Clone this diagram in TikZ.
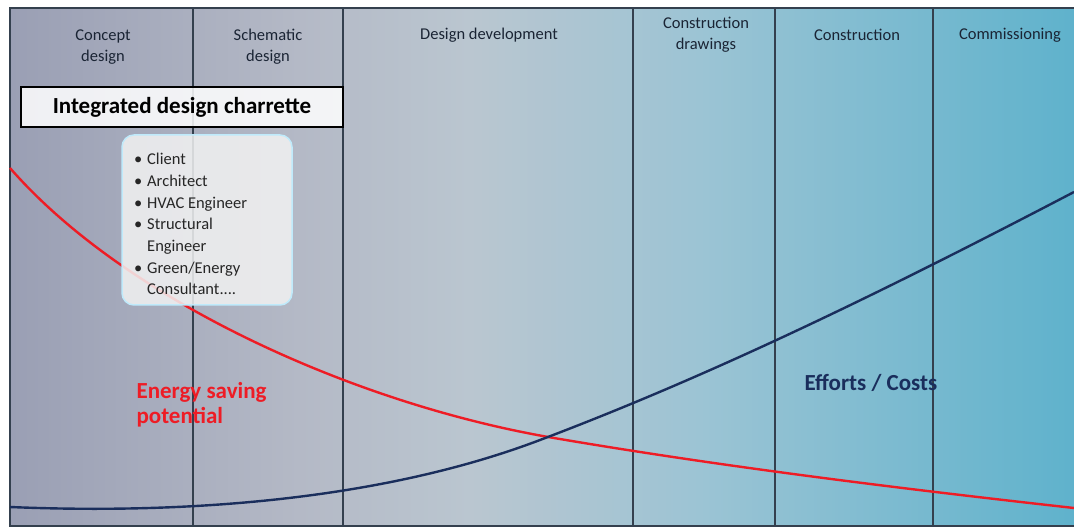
\documentclass[tikz,border=0pt]{standalone}
\usepackage{fontspec}
\setmainfont{Carlito}

\definecolor{bgA}{HTML}{9A9FB4}
\definecolor{bgB}{HTML}{B4B9C6}
\definecolor{bgC}{HTML}{BAC6D0}
\definecolor{bgD}{HTML}{9CC4D4}
\definecolor{bgE}{HTML}{5FB2CC}
\definecolor{frameline}{HTML}{34404E}
\definecolor{headtext}{HTML}{1A2434}
\definecolor{savingred}{HTML}{EE1C25}
\definecolor{costblue}{HTML}{1A2E5C}

\pgfdeclarehorizontalshading{phases}{100bp}{color(0bp)=(bgA); color(25bp)=(bgA);
  color(38.6bp)=(bgB); color(46.6bp)=(bgC); color(57.4bp)=(bgD);
  color(75bp)=(bgE); color(100bp)=(bgE)}

\begin{document}
\begin{tikzpicture}[x=1pt,y=-1pt]

        \useasboundingbox (0,0) rectangle (1074,529);
        \fill[white] (0,0) rectangle (1074,529);
        \shade[shading=phases] (10,8) rectangle (1074,526);

        % phase borders
        \draw[frameline, line width=2pt] (1074,8) -- (10,8) -- (10,526) -- (1074,526);
        \foreach \x in {193,343,633,775,933}
          \draw[frameline, line width=1.1pt] (\x,8) -- (\x,526);

        % curves
        \draw[savingred, line width=2.4pt] (10,168) .. controls (125,300) and (354,404) .. (554,438)
          .. controls (724,467) and (904,489) .. (1074,508);
        \draw[costblue, line width=2.4pt] (10,507) .. controls (200,515) and (390,497) .. (540,440)
          .. controls (720,372) and (894,286) .. (1074,192);

        \begin{scope}[every node/.style={text=headtext, font=\fontsize{16.5}{21}\selectfont, align=center}]
          \node (concept)   at (103,47)  {Concept\\design};
          \node (schematic) at (268,47)  {Schematic\\design};
          \node (develop)   at (489,35)  {Design development};
          \node (drawings)  at (706,35)  {Construction\\drawings};
          \node (construct) at (857,35)  {Construction};
          \node (commiss)   at (1010,35) {Commissioning};
        \end{scope}

        \node[draw=black, line width=2pt, fill=white, fill opacity=0.85, text opacity=1,
              minimum width=322pt, minimum height=40pt, inner sep=0pt,
              font=\fontsize{23}{26}\bfseries\selectfont] (charrette) at (182,107)
              {Integrated design charrette};

        \node[draw=cyan!25!white, line width=1.5pt, fill=gray!10, fill opacity=0.85, text opacity=1,
              rounded corners=12pt, minimum width=170pt, minimum height=170pt] (team) at (207,220) {};
        \node[anchor=north west, align=left, inner sep=0pt,
              font=\fontsize{16.5}{21.7}\selectfont, text=black!85] (members) at (134,153)
          {\makebox[13pt][l]{\textbullet}Client\\
           \makebox[13pt][l]{\textbullet}Architect\\
           \makebox[13pt][l]{\textbullet}HVAC Engineer\\
           \makebox[13pt][l]{\textbullet}Structural\\
           \hspace*{13pt}Engineer\\
           \makebox[13pt][l]{\textbullet}Green/Energy\\
           \hspace*{13pt}Consultant....};

        \node[anchor=west, align=left, text=savingred, font=\fontsize{23}{25}\bfseries\selectfont]
          (saving) at (133,405) {Energy saving\\potential};
        \node[anchor=west, text=costblue, font=\fontsize{23}{25}\bfseries\selectfont]
          (costs) at (801,383) {Efforts / Costs};

      \end{tikzpicture}
\end{document}
